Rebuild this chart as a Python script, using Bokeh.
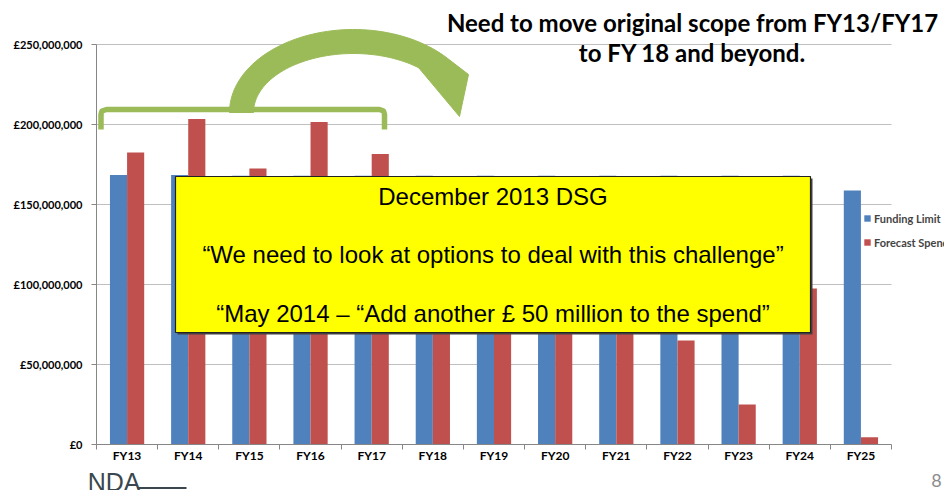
import numpy as np
from bokeh.plotting import figure
from bokeh.layouts import column
from bokeh.models import (Range1d, FixedTicker, Label, Legend, LegendItem,
                          ColumnDataSource, LinearAxis)
from bokeh.transform import dodge
from bokeh.embed import file_html
from bokeh.resources import INLINE

# ---------------- data ----------------
years = ["FY13", "FY14", "FY15", "FY16", "FY17", "FY18", "FY19",
         "FY20", "FY21", "FY22", "FY23", "FY24", "FY25"]
funding_limit = [168500000, 168500000, 168000000, 168000000, 168000000,
                 168000000, 168000000, 168000000, 168000000, 168000000,
                 168000000, 168000000, 158800000]
forecast_spend = [182500000, 203500000, 172500000, 201500000, 181500000,
                  150000000, 140000000, 125000000, 105000000, 65000000,
                  25000000, 97500000, 4500000]
y_ticks = [0, 50000000, 100000000, 150000000, 200000000, 250000000]
y_tick_labels = ["£0", "£50,000,000", "£100,000,000", "£150,000,000",
                 "£200,000,000", "£250,000,000"]
series_names = ["Funding Limit", "Forecast Spend"]
title_lines = ["Need to move original scope from FY13/FY17",
               "to FY 18 and beyond."]
box_lines = ["December 2013 DSG",
             "\u201cWe need to look at options to deal with this challenge\u201d",
             "\u201cMay 2014 \u2013 \u201cAdd another \u00a3 50 million to the spend\u201d"]
logo_text = "NDA"
page_number = "8"

BLUE = "#4F81BD"
RED = "#C0504D"
GREEN = "#9BBB59"
LOGO = "#3A474E"

n = len(years)
idx = [i + 0.5 for i in range(n)]
src = ColumnDataSource(dict(x=idx, limit=funding_limit, spend=forecast_spend, year=years))

# main chart: frame x 96..944, y 0..444 ; 13 categories over 795px, 250M over 400px
W, H1, H2 = 944, 466, 24
FL, FB = 96, 444
x_end = n * (W - FL) / 795
y_end = 250000000 * FB / 400

p = figure(width=W, height=H1, x_range=Range1d(0, x_end), y_range=Range1d(0, y_end),
           output_backend="svg", toolbar_location=None,
           min_border_left=FL, min_border_right=0, min_border_top=0, min_border_bottom=H1 - FB)
p.outline_line_color = None
p.background_fill_color = "white"
p.border_fill_color = "white"

# pixel helper ranges for the decorations
p.extra_x_ranges = {"px": Range1d(FL, W)}
p.extra_y_ranges = {"py": Range1d(FB, 0)}

# bars
r1 = p.vbar(x=dodge("x", -0.14, range=p.x_range), top="limit", width=0.28, source=src,
            fill_color=BLUE, line_color=None)
r2 = p.vbar(x=dodge("x", 0.14, range=p.x_range), top="spend", width=0.28, source=src,
            fill_color=RED, line_color=None)

# axes
xa = p.xaxis[0]
xa.ticker = FixedTicker(ticks=idx, minor_ticks=list(range(n + 1)))
xa.major_label_overrides = {idx[i]: years[i] for i in range(n)}
xa.bounds = (0, n)
xa.axis_line_color = "#868686"
xa.major_tick_out = 0
xa.major_tick_in = 0
xa.minor_tick_out = 5
xa.minor_tick_in = 0
xa.minor_tick_line_color = "#868686"
xa.major_label_standoff = -2
xa.major_label_text_font = "Lato"
xa.major_label_text_font_style = "bold"
xa.major_label_text_font_size = "12px"
xa.major_label_text_color = "black"

ya = p.yaxis[0]
ya.ticker = FixedTicker(ticks=y_ticks, minor_ticks=[])
ya.major_label_overrides = {y_ticks[i]: y_tick_labels[i] for i in range(len(y_ticks))}
ya.bounds = (0, 250000000)
ya.axis_line_color = "#868686"
ya.major_tick_line_color = "#868686"
ya.major_tick_out = 5
ya.major_tick_in = 0
ya.minor_tick_out = 0
ya.minor_tick_in = 0
ya.major_label_standoff = 9
ya.major_label_text_font = "Lato"
ya.major_label_text_font_style = "bold"
ya.major_label_text_font_size = "11px"
ya.major_label_text_color = "black"

p.xgrid.visible = False
p.ygrid.grid_line_color = "#BFBFBF"
p.ygrid.grid_line_width = 1
p.ygrid.cross_bounds = (0, n)

# legend
legend = Legend(items=[LegendItem(label=series_names[0], renderers=[r1]),
                       LegendItem(label=series_names[1], renderers=[r2])],
                location=(767, 194), orientation="vertical",
                glyph_width=8, glyph_height=8, label_standoff=3, spacing=8,
                padding=0, margin=0, border_line_color=None, background_fill_alpha=0,
                label_text_font="Lato", label_text_font_style="bold",
                label_text_font_size="11px", label_height=16)
p.add_layout(legend)

# yellow call-out box
p.quad(left=[177], right=[812], top=[178], bottom=[334], x_range_name="px", y_range_name="py",
       fill_color="#404040", line_color=None)
p.quad(left=[175], right=[810], top=[176], bottom=[332], x_range_name="px", y_range_name="py",
       fill_color="#FFFF00", line_color="#222222", line_width=1.2)
for txt, yc in zip(box_lines, [196, 254, 312.5]):
    p.add_layout(Label(x=492.5, y=yc, x_range_name="px", y_range_name="py", text=txt,
                       text_align="center", text_baseline="middle",
                       text_font="Liberation Sans", text_font_size="24px", text_color="black"))

# green bracket
bx = [100.5, 100.5, 101.5, 106, 236, 241.5, 247, 379, 383, 384, 384]
by = [129, 114, 110.5, 109, 109, 106, 109, 109, 110.5, 114, 129]
p.line(bx, by, x_range_name="px", y_range_name="py", line_color=GREEN, line_width=5.5,
       line_join="round")

# green curved arrow
cx, cy = 353, 112
t_out = np.radians(np.linspace(180, 41, 60))
t_in = np.radians(np.linspace(46, 180, 60))
ax = list(cx + 124 * np.cos(t_out)) + [468, 459, 418] + list(cx + 100 * np.cos(t_in))
ay = list(cy - 83 * np.sin(t_out)) + [74, 116, 67] + list(cy - 59 * np.sin(t_in))
p.patch(ax, ay, x_range_name="px", y_range_name="py", fill_color=GREEN, line_color=GREEN,
        line_width=1)

# title
for txt, yc in zip(title_lines, [22, 52]):
    p.add_layout(Label(x=692, y=yc, x_range_name="px", y_range_name="py", text=txt,
                       text_align="center", text_baseline="middle",
                       text_font="Lato", text_font_style="bold", text_font_size="24px",
                       text_color="black"))

# footer strip: logo and page number (page y 466..490); its frame is aligned at x=96
f = figure(width=W, height=H2, x_range=Range1d(FL, W), y_range=Range1d(H1 + H2, H1),
           output_backend="svg", toolbar_location=None, x_axis_type=None, y_axis_type=None,
           min_border_left=FL, min_border_right=0, min_border_top=0, min_border_bottom=0)
f.outline_line_color = None
f.xgrid.visible = False
f.ygrid.visible = False
logo_y = 478.5
logo_axis = LinearAxis(ticker=FixedTicker(ticks=[logo_y], minor_ticks=[]),
                       major_label_overrides={logo_y: logo_text},
                       axis_line_color=None, major_tick_line_color=None,
                       minor_tick_line_color=None, major_tick_out=0, major_tick_in=0,
                       major_label_standoff=-44,
                       major_label_text_font="Liberation Sans",
                       major_label_text_font_size="25px",
                       major_label_text_color=LOGO)
f.add_layout(logo_axis, "left")
f.line([137, 186], [487.5, 487.5], line_color=LOGO, line_width=2)
f.add_layout(Label(x=936, y=480, text=page_number, text_align="center", text_baseline="middle",
                   text_font="Lato", text_font_size="18px", text_color="#8C8C8C"))

layout = column(p, f, spacing=0)
open("out.html", "w").write(file_html(layout, INLINE))
